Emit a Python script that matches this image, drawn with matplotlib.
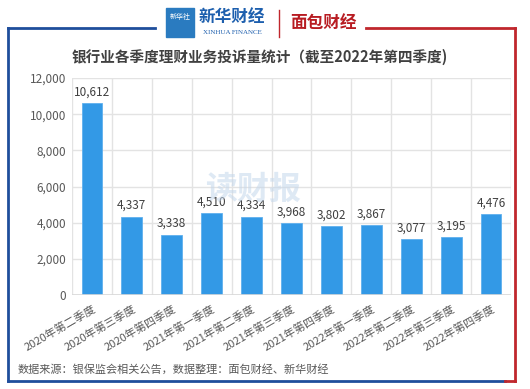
import matplotlib
matplotlib.use("Agg")
import matplotlib.pyplot as plt
from matplotlib.lines import Line2D
from matplotlib.patches import Rectangle
import numpy as np

plt.rcParams['font.family'] = ['Noto Sans CJK SC', 'DejaVu Sans']

categories = ["2020年第二季度", "2020年第三季度", "2020年第四季度", "2021年第一季度",
              "2021年第二季度", "2021年第三季度", "2021年第四季度", "2022年第一季度",
              "2022年第二季度", "2022年第三季度", "2022年第四季度"]
values = [10612, 4337, 3338, 4510, 4334, 3968, 3802, 3867, 3077, 3195, 4476]
yticks = [0, 2000, 4000, 6000, 8000, 10000, 12000]
title = "银行业各季度理财业务投诉量统计（截至2022年第四季度)"
source = "数据来源：银保监会相关公告，数据整理：面包财经、新华财经"

W, H = 530, 389
fig = plt.figure(figsize=(W/100, H/100), dpi=100)
fig.patch.set_facecolor('white')

def fx(x): return x / W
def fy(y): return 1 - y / H

# frame
blue = '#1f4e9c'
red = '#c0272d'
fig.add_artist(Line2D([fx(8), fx(8)], [fy(28), fy(381)], color=blue, lw=2))
fig.add_artist(Line2D([fx(8), fx(155)], [fy(28), fy(28)], color=blue, lw=2))
fig.add_artist(Line2D([fx(366), fx(515)], [fy(28), fy(28)], color=red, lw=2))
fig.add_artist(Line2D([fx(515), fx(515)], [fy(28), fy(381)], color=red, lw=2))
fig.add_artist(Line2D([fx(8), fx(505)], [fy(381), fy(381)], color=blue, lw=2))
fig.add_artist(Line2D([fx(505), fx(515)], [fy(381), fy(381)], color=red, lw=2))

# logos
fig.add_artist(Rectangle((fx(166), fy(37)), fx(28), 29/H, color='#2a7bc0'))
fig.text(fx(180), fy(17), "新华社", color='white', fontsize=5, ha='center', va='center')
fig.text(fx(232), fy(17), "新华财经", color='#1d5fae', fontsize=12, ha='center', va='center',
         fontweight='bold', style='italic')
fig.text(fx(232), fy(33), "XINHUA FINANCE", color='#1d5fae', fontsize=5, ha='center', va='center',
         family=['Liberation Serif'])
fig.add_artist(Line2D([fx(279), fx(279)], [fy(10), fy(37)], color=red, lw=1))
fig.text(fx(323), fy(23), "面包财经", color='#b81c22', fontsize=12, ha='center', va='center',
         fontweight='bold')

# title
fig.text(fx(260), fy(57), title, ha='center', va='center', fontsize=10.5,
         fontweight='bold', color='#404040')

ax = fig.add_axes([fx(72), fy(295), fx(511) - fx(72), fy(78) - fy(295)])
x = np.arange(len(categories))
ax.bar(x, values, width=0.52, color='#3399e6', edgecolor='#5fb0ee', lw=0.6, zorder=3)
for xi, v in zip(x, values):
    ax.text(xi, v + 250, f"{v:,}", ha='center', va='bottom', fontsize=8.5, color='#404040')

ax.set_xlim(-0.5, len(categories) - 0.5)
ax.set_ylim(0, 12000)
ax.set_yticks(yticks)
ax.set_yticklabels([f"{t:,}" for t in yticks], fontsize=8.5, color='#595959')
ax.set_xticks(x)
ax.set_xticklabels(categories, rotation=30, ha='right', rotation_mode='anchor',
                   fontsize=8, color='#595959')
ax.set_xticks(np.arange(-0.5, len(categories), 1), minor=True)
ax.tick_params(axis='x', which='both', length=0, pad=6)
ax.tick_params(axis='y', length=0, pad=4)
ax.grid(axis='y', color='#e3e3e3', lw=1, zorder=0)
ax.grid(axis='x', which='minor', color='#e3e3e3', lw=1, zorder=0)
ax.grid(axis='x', which='major', visible=False)
for s in ax.spines.values():
    s.set_visible(False)
ax.axhline(0, color='#d9d9d9', lw=1.2, zorder=4)

# watermark
fig.text(fx(253), fy(190), "读财报", ha='center', va='center', fontsize=23,
         fontweight='bold', color='#c4d7ec', alpha=0.55, zorder=10)

fig.text(fx(18), fy(369), source, ha='left', va='center', fontsize=8, color='#595959')

fig.savefig("out.png", dpi=100)
